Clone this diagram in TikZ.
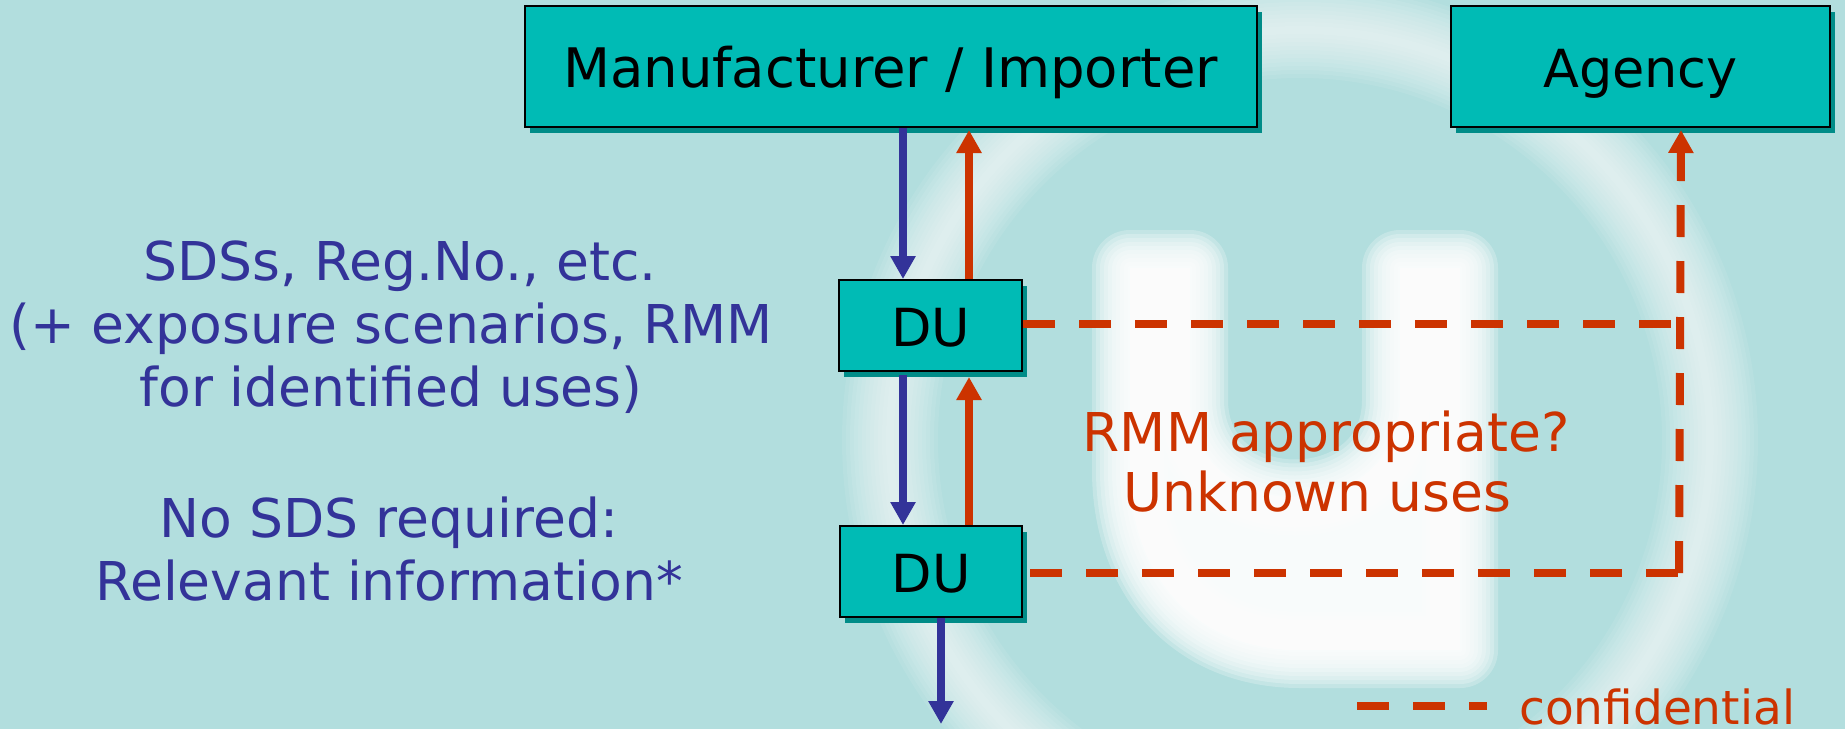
\documentclass[tikz,border=0pt]{standalone}
\usepackage{fontspec}
\setmainfont{DejaVu Sans}
\usetikzlibrary{arrows.meta,shadows}
\definecolor{pagebg}{HTML}{B2DEDE}
\definecolor{boxfill}{HTML}{00BBB5}
\definecolor{boxshade}{HTML}{008C88}
\definecolor{flowblue}{HTML}{333399}
\definecolor{flowred}{HTML}{CC3300}
\tikzset{actor/.style={draw=black,line width=2pt,fill=boxfill,text=black,inner sep=0pt,
                       text height=41pt,text depth=0pt,
                       font=\fontsize{52.5}{60}\selectfont,
                       drop shadow={shadow xshift=5pt,shadow yshift=-5.5pt,fill=boxshade,opacity=1}},
         note/.style={inner sep=0pt,align=center,font=\fontsize{53.5}{63}\selectfont},
         downflow/.style={draw=flowblue,line width=8pt,-{Triangle[length=23pt,width=24pt]}},
         upflow/.style={draw=flowred,line width=8pt,-{Triangle[length=23pt,width=24pt]}},
         secret/.style={draw=flowred,line width=8pt,dash pattern=on 32pt off 24pt}}
\begin{document}
\begin{tikzpicture}[x=1pt,y=-1pt]
\useasboundingbox (0,0) rectangle (1845,729);
\fill[pagebg] (0,0) rectangle (1845,729);
\begin{scope}
 \clip (0,0) rectangle (1845,729);
 \foreach \w in {96,88,80,72,64,56,48,40,32,24,16,8}
 \draw[white,line width=\w pt,opacity=.08] (1300,440) circle (410pt);
 \foreach \w in {76,68,60,52,44,36,28,20,12,4}
 \filldraw[white,line width=\w pt,opacity=.24,line join=round]
  (1130,268) -- (1190,268) -- (1190,400) .. controls (1190,530) and (1400,530) .. (1400,400)
  -- (1400,268) -- (1460,268) -- (1460,650) -- (1300,650) .. controls (1195,650) and (1130,575) .. (1130,470) -- cycle;
\end{scope}

\node [actor,font=\fontsize{54.5}{60}\selectfont,minimum width=732pt,minimum height=121pt] (maker) at (890.5,66.5) {Manufacturer / Importer};
\node [actor,minimum width=379pt,minimum height=121pt] (agency) at (1640.5,66.5) {Agency};
\node [actor,minimum width=183pt,minimum height=91pt] (firstdu) at (930.5,325.5) {DU};
\node [actor,minimum width=182pt,minimum height=91pt] (seconddu) at (931,571.5) {DU};

\node [note,text=flowblue] (given) at (391,327) {\hspace*{18pt}SDSs, Reg.No., etc.\\(+ exposure scenarios, RMM\\for identified uses)};
\node [note,text=flowblue] (nosds) at (389,549) {No SDS required:\\Relevant information*};
\node [note,text=flowred] (rmmq) at (1326,437) {RMM appropriate?};
\node [note,text=flowred] (unknown) at (1317,492) {Unknown uses};
\node [note,text=flowred,anchor=west,font=\fontsize{47}{56}\selectfont] (legend) at (1519,707) {confidential};

\coordinate (outflow) at (941,724);
\coordinate (firstjoin) at (1680,324);
\coordinate (corner) at (1679,573);
\coordinate (legendstart) at (1357,706);

\draw[downflow] ([xshift=-27.5pt]firstdu.north |- maker.south) -- ([xshift=-27.5pt]firstdu.north);
\draw[upflow] ([xshift=38.5pt]firstdu.north) -- ([xshift=38.5pt,yshift=-2pt]firstdu.north |- maker.south);
\draw[downflow] ([xshift=-28pt,yshift=-3pt]seconddu.north |- firstdu.south) -- ([xshift=-28pt]seconddu.north);
\draw[upflow] ([xshift=38pt]seconddu.north) -- ([xshift=38pt,yshift=-5pt]seconddu.north |- firstdu.south);
\draw[downflow] ([xshift=10pt]seconddu.south) -- (outflow);

\draw[secret] ([yshift=1.5pt]firstdu.east) -- (firstjoin);
\draw[secret] ([xshift=7pt,yshift=-1.5pt]seconddu.east) -- (corner);
\draw[secret,-{Triangle[length=23pt,width=24pt]}] (corner) -- ([xshift=40.5pt,yshift=-2pt]agency.south);
\draw[secret] (legendstart) -- ([xshift=-32pt]legendstart -| legend.west);
\end{tikzpicture}
\end{document}
